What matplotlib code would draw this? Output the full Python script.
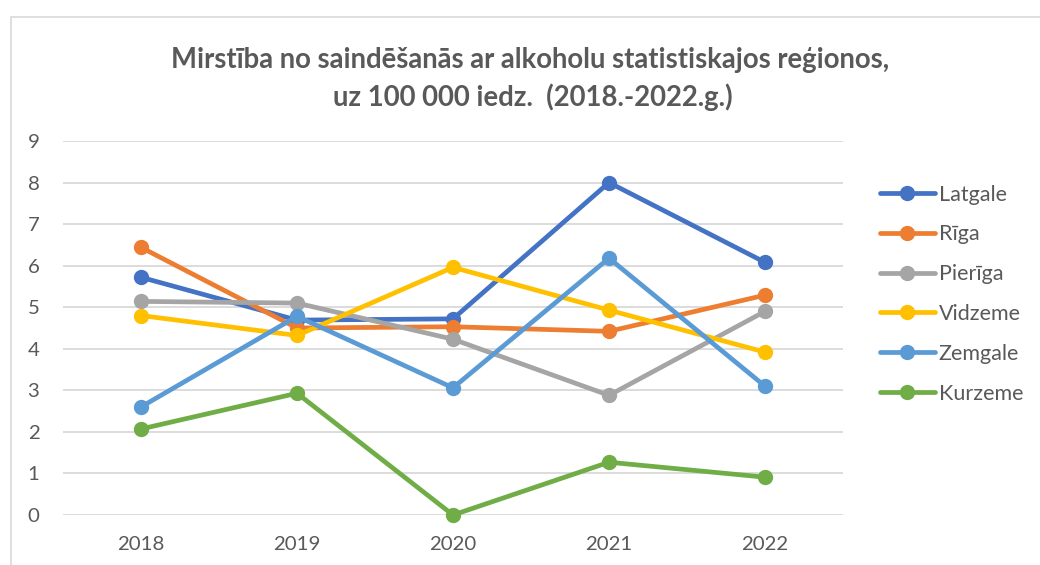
"""Mirstība no saindēšanās ar alkoholu statistiskajos reģionos (2018-2022)."""
import matplotlib
matplotlib.use("Agg")
import matplotlib.pyplot as plt
from matplotlib.patches import Rectangle

years = ["2018", "2019", "2020", "2021", "2022"]
regions = ["Latgale", "Rīga", "Pierīga", "Vidzeme", "Zemgale", "Kurzeme"]

latgale = [5.72, 4.69, 4.72, 8.0, 6.08]
riga = [6.44, 4.50, 4.53, 4.42, 5.29]
pieriga = [5.14, 5.10, 4.23, 2.88, 4.90]
vidzeme = [4.80, 4.32, 5.96, 4.93, 3.92]
zemgale = [2.60, 4.78, 3.06, 6.18, 3.10]
kurzeme = [2.07, 2.93, 0.0, 1.27, 0.91]

series = [latgale, riga, pieriga, vidzeme, zemgale, kurzeme]
colors = ["#4472C4", "#ED7D31", "#A5A5A5", "#FFC000", "#5B9BD5", "#70AD47"]

TEXT = "#595959"
GRID = "#D9D9D9"

plt.rcParams['font.family'] = ['Lato', 'DejaVu Sans']

fig = plt.figure(figsize=(10.4, 5.65), dpi=100)
fig.patches.append(Rectangle((11 / 1040, -0.1), 1.2, 1.1 - 17 / 565,
                             transform=fig.transFigure, fill=False,
                             edgecolor=GRID, linewidth=1.2))

ax = fig.add_axes([63 / 1040, 1 - 515 / 565, 780 / 1040, 374 / 565])
x = list(range(len(years)))
for name, vals, c in zip(regions, series, colors):
    ax.plot(x, vals, color=c, linewidth=3.4, marker='o', markersize=10,
            label=name, solid_capstyle='round', clip_on=False)

ax.set_xlim(-0.5, len(years) - 0.5)
ax.set_ylim(0, 9)
ax.set_yticks(range(0, 10))
ax.set_xticks(x)
ax.set_xticklabels(years)
ax.grid(axis='y', color=GRID, linewidth=1.3)
ax.set_axisbelow(True)
for s in ax.spines.values():
    s.set_visible(False)
ax.tick_params(length=0, labelsize=14.7, labelcolor=TEXT)
ax.tick_params(axis='y', pad=17)
ax.tick_params(axis='x', pad=15)

fig.text(0.51, 1 - 60 / 565,
         "Mirstība no saindēšanās ar alkoholu statistiskajos reģionos,",
         ha='center', va='center', fontsize=19.8, fontweight='bold', color=TEXT)
fig.text(0.512, 1 - 97 / 565, "uz 100 000 iedz.  (2018.-2022.g.)",
         ha='center', va='center', fontsize=19.8, fontweight='bold', color=TEXT)

leg = ax.legend(loc='upper left', bbox_to_anchor=(871 / 1040, 1 - 176 / 565),
                bbox_transform=fig.transFigure, frameon=False,
                fontsize=15.5, labelspacing=0.92, handlelength=2.55,
                handletextpad=0.2, borderaxespad=0)
for t in leg.get_texts():
    t.set_color(TEXT)

fig.savefig("out.png", dpi=100)
